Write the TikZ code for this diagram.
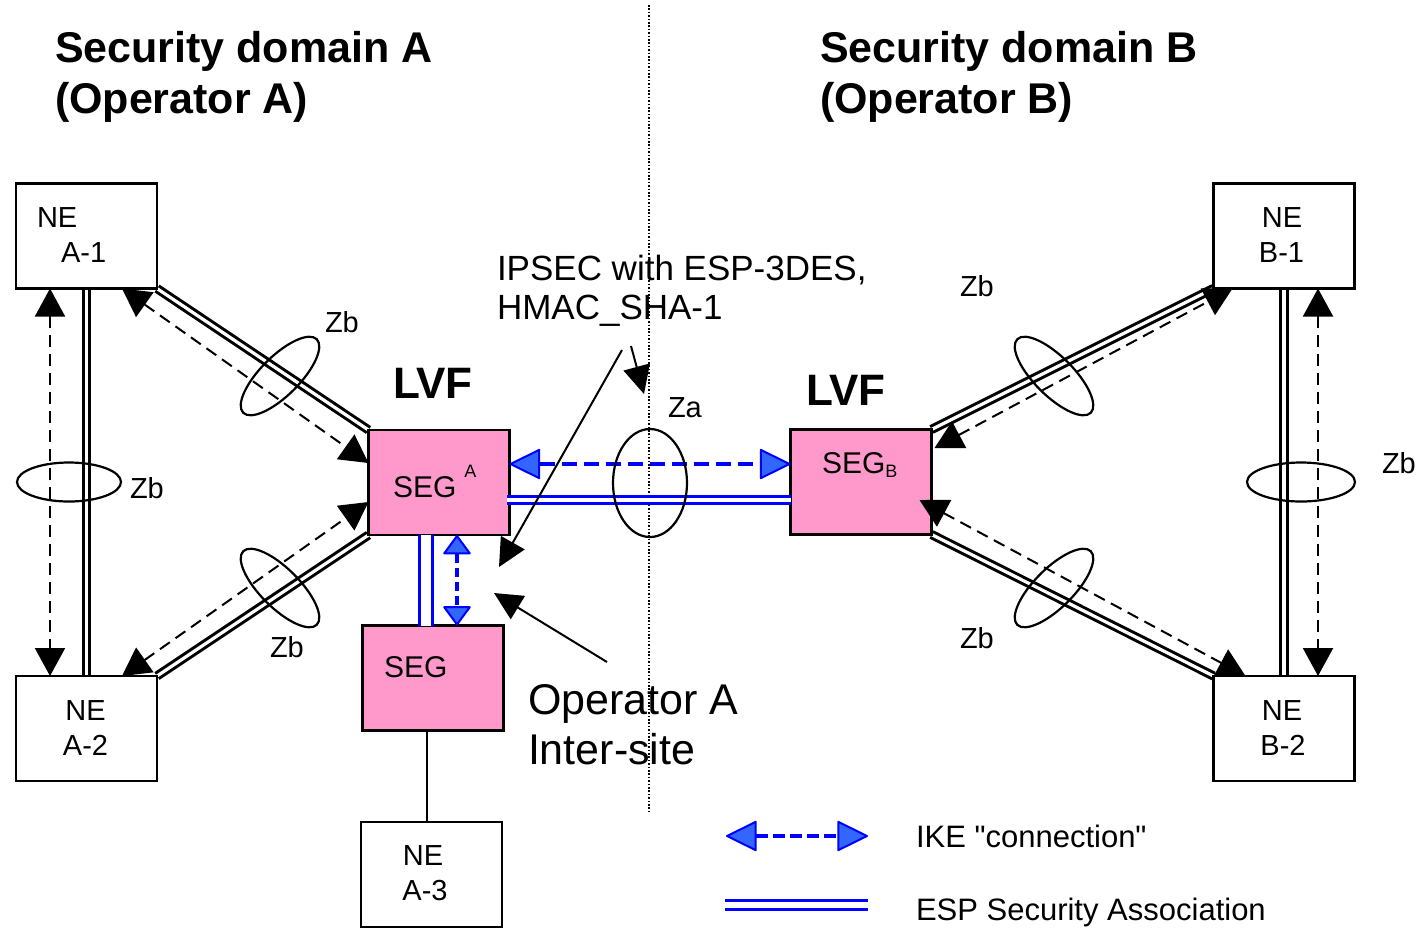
\documentclass[tikz,border=0pt]{standalone}
\usepackage{fontspec}
\setmainfont{Liberation Sans}[Ligatures=TeXOff]
\usetikzlibrary{arrows.meta,calc}
\pgfdeclarelayer{background}
\pgfsetlayers{background,main}
\definecolor{segpink}{RGB}{255,153,204}
\definecolor{ikeblue}{RGB}{0,0,255}
\definecolor{ikefill}{RGB}{51,102,255}
\tikzset{
  every node/.style={inner sep=0pt,outer sep=0pt},
  nebox/.style={draw=black,line width=2.5pt,fill=white,minimum width=141pt,minimum height=105pt},
  segbox/.style={nebox,fill=segpink},
  lbl/.style={anchor=base,font=\fontsize{29}{35}\selectfont},
  lblw/.style={anchor=base west,font=\fontsize{29}{35}\selectfont},
  segtxt/.style={anchor=base west,font=\fontsize{30}{36}\selectfont},
  hdg/.style={anchor=base west,font=\bfseries\fontsize{43}{51}\selectfont},
  link/.style={draw=black,line width=3pt,double=white,double distance=3.2pt},
  esp/.style={draw=ikeblue,line width=3pt,double=white,double distance=4.3pt},
  sig/.style={draw=black,line width=2pt,dash pattern=on 12pt off 7pt,
    arrows={Triangle[length=28pt,width=30pt]-Triangle[length=28pt,width=30pt]}},
  ike/.style={draw=ikeblue,line width=4pt,dash pattern=on 15pt off 7pt,
    arrows={Triangle[length=32pt,width=31pt,fill=ikefill,line width=2pt,round]-Triangle[length=32pt,width=31pt,fill=ikefill,line width=2pt,round]}},
  ikeshort/.style={draw=ikeblue,line width=4pt,dash pattern=on 9pt off 5pt,
    arrows={Triangle[length=20pt,width=29pt,fill=ikefill,line width=2pt,round]-Triangle[length=20pt,width=29pt,fill=ikefill,line width=2pt,round]}},
  note/.style={draw=black,line width=2pt,-{Triangle[length=28pt,width=27pt]}},
  ring/.style={draw=black,line width=2.2pt},
  divider/.style={draw=black,line width=1.8pt,dash pattern=on 1.6pt off 1.8pt},
  wire/.style={draw=black,line width=2.2pt}
}
\begin{document}
\begin{tikzpicture}[x=1pt,y=-1pt]
\useasboundingbox (0,0) rectangle (1423,930);

% network elements and security gateways
\node[nebox] (a1) at (86.5,236) {};
\node[nebox] (a2) at (86.5,728.5) {};
\node[nebox] (b1) at (1284,236) {};
\node[nebox] (b2) at (1284,728.5) {};
\node[nebox] (a3) at (431.5,874.5) {};
\node[segbox] (segA) at (439,482.5) {};
\node[segbox] (segB) at (861,482) {};
\node[segbox] (segL) at (433,678) {};

% box labels
\node[lblw] (a1ne) at (37,227) {NE};
\node[lblw] (a1id) at (61,262) {A-1};
\node[lbl] (a2ne) at (85.5,720) {NE};
\node[lbl] (a2id) at (85.5,755) {A-2};
\node[lbl] (b1ne) at (1282,227) {NE};
\node[lbl] (b1id) at (1281.5,262) {B-1};
\node[lbl] (b2ne) at (1282,720) {NE};
\node[lbl] (b2id) at (1283,755) {B-2};
\node[lbl] (a3ne) at (423,865) {NE};
\node[lbl] (a3id) at (425,900) {A-3};
\node[segtxt] (segAtxt) at (393,497) {SEG\hspace{8pt}\raisebox{20pt}{\fontsize{18}{21}\selectfont A}};
\node[segtxt] (segBtxt) at (822,473) {SEG\raisebox{-4pt}{\fontsize{18}{21}\selectfont B}};
\node[segtxt] (segLtxt) at (384,677) {SEG};

% headings
\node[hdg] (hdA1) at (55,62) {Security domain A};
\node[hdg] (hdA2) at (55,113) {(Operator A)};
\node[hdg] (hdB1) at (820,62) {Security domain B};
\node[hdg] (hdB2) at (820,113) {(Operator B)};
\node[hdg,font=\bfseries\fontsize{44}{52}\selectfont] (lvfA) at (393,398) {LVF};
\node[hdg,font=\bfseries\fontsize{44}{52}\selectfont] (lvfB) at (806,405) {LVF};

% annotations
\node[anchor=base west,font=\fontsize{35}{41}\selectfont] (ips1) at (497,280) {IPSEC with ESP-3DES,};
\node[anchor=base west,font=\fontsize{35}{41}\selectfont] (ips2) at (497,319) {HMAC\_SHA-1};
\node[anchor=base west,font=\fontsize{43}{50}\selectfont] (op1) at (528,714) {Operator A};
\node[anchor=base west,font=\fontsize{43}{50}\selectfont] (op2) at (528,764) {Inter-site};

% interface labels
\node[lblw] (zbL) at (130,498) {Zb};
\node[lblw] (zbA1) at (325,332) {Zb};
\node[lblw] (zbA2) at (270,657) {Zb};
\node[lblw] (zbB1) at (960,296) {Zb};
\node[lblw] (zbB2) at (960,648) {Zb};
\node[lblw] (zbR) at (1382,473) {Zb};
\node[lblw] (za) at (668,417) {Za};

% legend
\node[anchor=base west,font=\fontsize{31}{37}\selectfont] (lgIke) at (916,847) {IKE "connection"};
\node[anchor=base west,font=\fontsize{31}{37}\selectfont] (lgEsp) at (916,920) {ESP Security Association};
\coordinate (lgIkeL) at (726,836);
\coordinate (lgIkeR) at (868,836);
\coordinate (lgEspL) at (725,905);
\coordinate (lgEspR) at (868,905);

% domain border
\coordinate (divTop) at (649,5);
\coordinate (divBot) at (649,813);

\begin{pgfonlayer}{background}
  \draw[divider] (divTop) -- (divBot);
  % Zb links inside each domain
  \draw[link] (a1.south) -- (a2.north);
  \draw[link] (a1.south east) -- (segA.north west);
  \draw[link] (a2.north east) -- (segA.south west);
  \draw[link] (b1.south) -- (b2.north);
  \draw[link] (segB.north east) -- (b1.south west);
  \draw[link] (segB.south east) -- (b2.north west);
\end{pgfonlayer}

% ESP security associations
\draw[esp] ($(segA.east)+(-3,17.5)$) -- ($(segB.west)+(0,18)$);
\draw[esp,double distance=10pt] ($(segA.south)+(-13.5,0)$) -- ($(segL.north)+(-7.5,0)$);
\draw[wire] ($(segL.south)+(-6,0)$) -- ($(a3.north)+(-4.5,0)$);

% IKE connections
\draw[ike] ($(segA.east)+(0,-18.5)$) -- ($(segB.west)+(0,-18)$);
\draw[ikeshort] ($(segA.south)+(18,0)$) -- ($(segL.north)+(24,0)$);

% signalling arrows
\draw[sig] ($(a1.south)+(-36.5,0)$) -- ($(a2.north)+(-36.5,0)$);
\draw[sig] ($(a1.south)+(35.5,0)$) -- ($(segA.west)+(0,-19.5)$);
\draw[sig] ($(a2.north)+(35.5,0)$) -- ($(segA.west)+(0,19.5)$);
\draw[sig] ($(segB.east)+(3,-34)$) -- ($(b1.south west)+(19,0)$);
\draw[sig] ($(segB.east)+(-12,18)$) -- ($(b2.north west)+(32,0)$);
\draw[sig] ($(b1.south)+(34,0)$) -- ($(b2.north)+(34,0)$);

% interface rings
\coordinate (rL) at (69,482);
\coordinate (rR) at (1301,482);
\coordinate (rA1) at (280,376);
\coordinate (rA2) at (280,588);
\coordinate (rB1) at (1054,376);
\coordinate (rB2) at (1054,588);
\coordinate (rZa) at (650,483);
\draw[ring] (rL) ellipse [x radius=52, y radius=19.5];
\draw[ring] (rR) ellipse [x radius=54, y radius=19.5];
\draw[ring] (rZa) ellipse [x radius=37, y radius=54];
\draw[ring,rotate around={45:(rA1)}] (rA1) ellipse [x radius=52, y radius=19.5];
\draw[ring,rotate around={-45:(rA2)}] (rA2) ellipse [x radius=52, y radius=19.5];
\draw[ring,rotate around={-45:(rB1)}] (rB1) ellipse [x radius=52, y radius=19.5];
\draw[ring,rotate around={45:(rB2)}] (rB2) ellipse [x radius=52, y radius=19.5];

% callout arrows
\coordinate (n1s) at (622,350);
\coordinate (n1e) at (499,567);
\coordinate (n2s) at (631,346);
\coordinate (n2e) at (644,394);
\coordinate (n3s) at (607,662);
\coordinate (n3e) at (494,593);
\draw[note] (n1s) -- (n1e);
\draw[note] (n2s) -- (n2e);
\draw[note] (n3s) -- (n3e);

% legend symbols
\draw[ike,dash pattern=on 12pt off 5pt] (lgIkeL) -- (lgIkeR);
\draw[esp,double distance=5.3pt] (lgEspL) -- (lgEspR);
\end{tikzpicture}
\end{document}
